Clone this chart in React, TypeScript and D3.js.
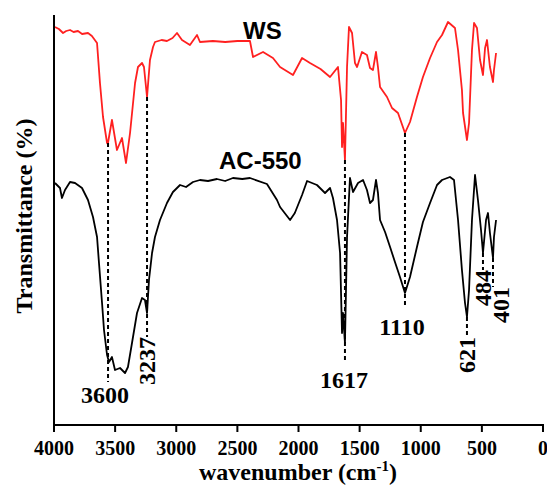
import React from 'react';
import * as d3 from 'd3';

// FTIR spectra, transmittance in arbitrary units (offset traces)
const wsWavenumber = [
  3992, 3960, 3926, 3900, 3869, 3840, 3804, 3770, 3722, 3690, 3648, 3624, 3599, 3566, 3560, 3526,
  3485, 3444, 3411, 3378, 3337, 3313, 3280, 3264, 3239, 3215, 3190, 3174, 3120, 3076, 3030, 2994,
  2953, 2888, 2830, 2806, 2700, 2600, 2500, 2397, 2372, 2290, 2209, 2151, 2045, 1971, 1906, 1820,
  1742, 1677, 1652, 1644, 1636, 1620, 1603, 1587, 1562, 1538, 1521, 1481, 1440, 1415, 1391, 1366,
  1350, 1333, 1276, 1235, 1186, 1129, 1088, 1031, 982, 924, 867, 826, 777, 720, 695, 663,
  654, 622, 605, 581, 564, 540, 515, 491, 474, 458, 434, 409, 401, 384,
];
const wsTransmittance = [
  398, 396, 392, 394, 395, 393, 394, 391, 392, 389, 382, 342, 308, 282, 281, 305,
  275, 287, 262, 292, 342, 358, 362, 358, 328, 365, 378, 383, 385, 384, 387, 392,
  385, 380, 390, 383, 384, 383, 384, 384, 368, 373, 367, 358, 350, 367, 362, 356,
  348, 358, 325, 278, 302, 265, 358, 398, 392, 362, 358, 373, 370, 357, 355, 373,
  358, 338, 328, 317, 312, 292, 303, 328, 348, 367, 383, 390, 403, 397, 375, 335,
  312, 285, 302, 375, 402, 397, 365, 350, 377, 385, 358, 343, 355, 372,
];

const acWavenumber = [
  3992, 3951, 3935, 3910, 3869, 3828, 3771, 3722, 3681, 3648, 3632, 3607, 3591, 3566, 3550, 3526,
  3501, 3460, 3419, 3395, 3362, 3321, 3280, 3256, 3239, 3223, 3198, 3174, 3133, 3076, 3027, 2969,
  2920, 2863, 2806, 2740, 2667, 2600, 2536, 2460, 2397, 2258, 2176, 2151, 2069, 2030, 1971, 1930,
  1849, 1783, 1742, 1718, 1685, 1660, 1644, 1636, 1620, 1603, 1579, 1554, 1513, 1472, 1440, 1415,
  1391, 1366, 1350, 1333, 1292, 1251, 1211, 1170, 1129, 1088, 1031, 982, 924, 867, 826, 761,
  728, 695, 663, 638, 622, 605, 581, 556, 532, 507, 491, 466, 450, 434, 409, 401, 384,
];
const acTransmittance = [
  242, 237, 227, 235, 243, 242, 237, 225, 208, 188, 162, 122, 95, 70, 63, 68,
  55, 57, 52, 58, 82, 112, 127, 125, 112, 145, 172, 188, 205, 222, 233, 240,
  238, 243, 245, 244, 246, 244, 247, 246, 247, 241, 225, 218, 205, 212, 230, 244,
  240, 232, 237, 227, 205, 172, 92, 112, 82, 188, 247, 233, 242, 245, 235, 222,
  225, 245, 232, 205, 193, 178, 163, 148, 132, 148, 178, 203, 222, 240, 245, 248,
  245, 205, 155, 122, 108, 135, 205, 250, 225, 195, 172, 205, 212, 192, 167, 188, 205,
];

const xTicks = [4000, 3500, 3000, 2500, 2000, 1500, 1000, 500, 0];

const peakLabels = ['3600', '3237', '1617', '1110', '621', '484', '401'];
const peakWavenumber = [3558, 3239, 1620, 1129, 622, 491, 409];

const W = 547;
const H = 487;
const left = 54;
const right = 543;
const top = 15;
const bottom = 425;

// dashed guide extents (pixel y) and label placement for each peak
const guides = [
  { y1: 143, y2: 382, rotate: false, lx: 105, ly: 403 },
  { y1: 97, y2: 337, rotate: true, lx: 147, ly: 337 },
  { y1: 160, y2: 362, rotate: false, lx: 344, ly: 388 },
  { y1: 133, y2: 308, rotate: false, lx: 402, ly: 335 },
  { y1: 317, y2: 337, rotate: true, lx: 467, ly: 337 },
  { y1: 253, y2: 270, rotate: true, lx: 483, ly: 270 },
  { y1: 258, y2: 287, rotate: true, lx: 501, ly: 287 },
];

const serif = '"Liberation Serif", "Times New Roman", serif';
const sans = '"Liberation Sans", Arial, sans-serif';

export default function App() {
  const x = d3.scaleLinear().domain([4000, 0]).range([left, right]);
  const y = d3.scaleLinear().domain([0, 410]).range([bottom, top]);

  const line = d3
    .line<[number, number]>()
    .x((d) => x(d[0]))
    .y((d) => y(d[1]));

  const ws = wsWavenumber.map((w, i) => [w, wsTransmittance[i]] as [number, number]);
  const ac = acWavenumber.map((w, i) => [w, acTransmittance[i]] as [number, number]);

  return (
    <svg
      width={W}
      height={H}
      style={{ position: 'absolute', left: 0, top: 0, background: '#fff' }}
    >
      <path d={line(ws) || ''} fill="none" stroke="#ff2020" strokeWidth={1.8} strokeLinejoin="round" />
      <path d={line(ac) || ''} fill="none" stroke="#000" strokeWidth={1.8} strokeLinejoin="round" />

      {/* dashed peak guides */}
      {peakWavenumber.map((wn, i) => (
        <line
          key={'g' + i}
          x1={x(wn)}
          x2={x(wn)}
          y1={guides[i].y1}
          y2={guides[i].y2}
          stroke="#000"
          strokeWidth={2}
          strokeDasharray="4,3"
        />
      ))}
      {peakLabels.map((lab, i) => {
        const g = guides[i];
        return g.rotate ? (
          <text
            key={'l' + i}
            transform={`translate(${g.lx},${g.ly}) rotate(-90)`}
            dy="0.35em"
            textAnchor="end"
            fontFamily={serif}
            fontWeight="bold"
            fontSize={24}
          >
            {lab}
          </text>
        ) : (
          <text
            key={'l' + i}
            x={g.lx}
            y={g.ly}
            textAnchor="middle"
            fontFamily={serif}
            fontWeight="bold"
            fontSize={24}
          >
            {lab}
          </text>
        );
      })}

      {/* series names */}
      <text x={243} y={39} fontFamily={sans} fontWeight="bold" fontSize={24}>
        WS
      </text>
      <text x={219} y={169} fontFamily={sans} fontWeight="bold" fontSize={24}>
        AC-550
      </text>

      {/* axes */}
      <line x1={left} x2={left} y1={top} y2={bottom + 1} stroke="#000" strokeWidth={2} />
      <line x1={left - 1} x2={right + 1} y1={bottom} y2={bottom} stroke="#000" strokeWidth={2} />
      {xTicks.map((t) => (
        <g key={t} transform={`translate(${x(t)},${bottom})`}>
          <line y1={0} y2={7} stroke="#000" strokeWidth={2} />
          <text y={30} textAnchor="middle" fontFamily={serif} fontWeight="bold" fontSize={20}>
            {t}
          </text>
        </g>
      ))}
      <text x={298} y={480} textAnchor="middle" fontFamily={serif} fontWeight="bold" fontSize={24}>
        wavenumber (cm
        <tspan dy={-9} fontSize={15}>
          -1
        </tspan>
        <tspan dy={9}>)</tspan>
      </text>
      <text
        transform={`translate(32,216) rotate(-90)`}
        textAnchor="middle"
        fontFamily={serif}
        fontWeight="bold"
        fontSize={24}
      >
        Transmittance (%)
      </text>
    </svg>
  );
}
